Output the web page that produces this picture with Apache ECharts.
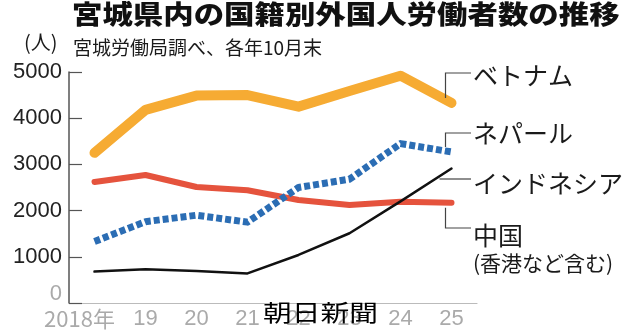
<!DOCTYPE html>
<html><head><meta charset="utf-8">
<script src="https://cdn.jsdelivr.net/npm/echarts@6/dist/echarts.min.js"></script>
<style>html,body{margin:0;padding:0;background:#fff;}#c{width:640px;height:334px;}</style>
</head><body><div id="c"></div>
<script>
var years = ['2018年','19','20','21','22','23','24','25'];
var vietnam = [3250, 4180, 4490, 4500, 4250, 4590, 4920, 4330];
var nepal = [1330, 1760, 1900, 1750, 2500, 2680, 3450, 3270];
var china = [2620, 2770, 2510, 2440, 2230, 2120, 2190, 2170];
var indonesia = [680, 730, 690, 640, 1040, 1510, 2200, 2910];
var yTicks = [0, 1000, 2000, 3000, 4000, 5000];

var FONT = '"Noto Sans CJK JP", "Noto Sans", sans-serif';
var NUMFONT = '"Liberation Sans", Arial, sans-serif';
var chart = echarts.init(document.getElementById('c'), null, {renderer:'canvas'});

function lineSeries(name, data, color, width, type, z){
  return {name:name, type:'line', data:data, symbol:'none', z:z,
    lineStyle:{color:color, width:width, type:type, cap: type==='solid'?'round':'butt', join:'round'}};
}

chart.setOption({
  animation:false,
  grid:{left:69, right:163, top:72, bottom:31},
  xAxis:{type:'category', data:years, boundaryGap:true,
    axisLine:{lineStyle:{color:'#bbb', width:1.2}},
    axisTick:{inside:true, alignWithLabel:true, length:11, lineStyle:{color:'#bbb', width:1}},
    axisLabel:{color:'#aaa', fontSize:22, fontFamily:NUMFONT, margin:5, interval:0,
      formatter:function(v){ return v===years[0] ? '{f|'+v+'}' : v; },
      rich:{f:{color:'#aaa', fontSize:22, fontFamily:FONT, padding:[0,30,0,0]}}}
  },
  yAxis:{type:'value', min:yTicks[0], max:yTicks[yTicks.length-1], interval:1000,
    splitLine:{show:false},
    axisLine:{show:true, lineStyle:{color:'#555', width:1.5}},
    axisTick:{show:true, inside:true, length:13, lineStyle:{color:'#555', width:1.2}},
    axisLabel:{color:'#222', fontSize:22, fontFamily:NUMFONT, margin:7,
      formatter:function(v){ return v===0 ? '{z|0}' : String(v); },
      rich:{z:{color:'#aaa', fontSize:22, fontFamily:NUMFONT, padding:[0,0,18,0]}}}
  },
  series:[
    lineSeries('中国', china, '#e5533d', 6, 'solid', 2),
    lineSeries('インドネシア', indonesia, '#111', 2.5, 'solid', 3),
    lineSeries('ネパール', nepal, '#2b6db4', 7, [6,3], 4),
    lineSeries('ベトナム', vietnam, '#f6ab33', 10, 'solid', 5)
  ]
});

function px(i, v){ return chart.convertToPixel({gridIndex:0}, [i, v]); }
var last = years.length - 1;
var pV = px(last, vietnam[last]), pN = px(last, nepal[last]), pC = px(last, china[last]), pI = px(last, indonesia[last]);
var lx = pV[0] - 6, tx = 473;
var leader = {stroke:'#444', lineWidth:1.2, fill:null};
function txt(t, x, y, size, extra){
  var o = {type:'text', x:x, y:y, z:100, style:{text:t, fontSize:size, fontFamily:FONT, fill:'#1a1a1a', verticalAlign:'middle', align:'left'}};
  if (extra) for (var k in extra) o[k] = extra[k];
  return o;
}
chart.setOption({
  graphic:[
    txt('宮城県内の国籍別外国人労働者数の推移', 72, 14, 26, {scaleX:1.17, style:{text:'宮城県内の国籍別外国人労働者数の推移', fontSize:26, fontWeight:900, fontFamily:FONT, fill:'#111', verticalAlign:'middle', align:'left'}}),
    txt('(人)', 24, 42, 20),
    txt('宮城労働局調べ、各年10月末', 73, 48, 19),
    {type:'polyline', z:100, shape:{points:[[lx, pV[1]-5],[lx,73],[471,73]]}, style:leader},
    {type:'polyline', z:100, shape:{points:[[lx, pN[1]-5],[lx,133],[471,133]]}, style:leader},
    {type:'polyline', z:100, shape:{points:[[pI[0]-12, 179],[471,179]]}, style:leader},
    {type:'polyline', z:100, shape:{points:[[lx, pC[1]+5],[lx,228],[471,228]]}, style:leader},
    txt('ベトナム', tx, 75, 25),
    txt('ネパール', tx, 133, 25),
    txt('インドネシア', tx, 183, 25),
    txt('中国', tx, 235, 25),
    txt('(香港など含む)', tx, 263, 21),
    txt('朝日新聞', 263, 312, 23, {scaleX:1.25, style:{text:'朝日新聞', fontSize:23, fontFamily:FONT, fill:'#000', verticalAlign:'middle', align:'left'}})
  ]
});
</script></body></html>
